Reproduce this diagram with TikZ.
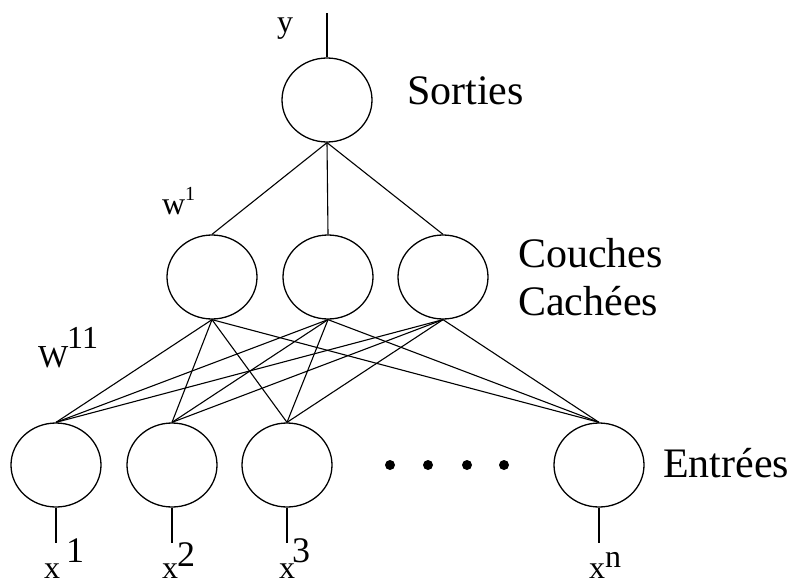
\documentclass[tikz,border=0pt]{standalone}
\usepackage{fontspec}
\setmainfont{Liberation Serif}
\newfontfamily\timesfam{Liberation Serif}
\usetikzlibrary{shapes.geometric}

\tikzset{
  neuron/.style={draw, ellipse, line width=1.3pt, minimum width=90pt, minimum height=84pt, inner sep=0pt},
  wire/.style={line width=1.1pt},
  biglbl/.style={font=\timesfam\fontsize{42}{48}\selectfont, inner sep=0pt, anchor=base west},
  smalllbl/.style={font=\timesfam\fontsize{32}{36}\selectfont, inner sep=0pt, anchor=base west},
  supsmall/.style={font=\timesfam\fontsize{20}{24}\selectfont, inner sep=0pt, anchor=base west},
  supbig/.style={font=\timesfam\fontsize{36}{40}\selectfont, inner sep=0pt, anchor=base west}
}

\begin{document}
\begin{tikzpicture}[x=1pt, y=-1pt]
    \useasboundingbox (0,0) rectangle (794,583);
    % couche de sortie
    \node[neuron] (out) at (327,100) {};
    \coordinate (ytop) at (327,13);
    \draw[wire] (out.north) -- (ytop);
    \path (277,33) node[smalllbl] (ylbl) {y};
    \path (407,105) node[biglbl] (sorties) {Sorties};
    % couche cachee
    \foreach \i/\x in {1/212, 2/328, 3/443}
      \node[neuron] (h\i) at (\x,277) {};
    \path (518,267) node[biglbl] (couches) {Couches};
    \path (518,315) node[biglbl] (cachees) {Cachées};
    \path (162,214) node[smalllbl] (wa) {w};
    \path (185,200) node[supsmall] (wasup) {1};
    \path (38,367) node[smalllbl] (wb) {W};
    \path (67,348) node[smalllbl] (wbsup) {11};
    % entrees
    \foreach \i/\x in {1/56, 2/172, 3/287, n/599}
      \node[neuron] (in\i) at (\x,465) {};
    \foreach \x in {390,428,467,504}
      \fill (\x,465) circle (5pt);
    \path (663,477) node[biglbl] (entrees) {Entrées};
    % connexions
    \foreach \i in {1,2,3}
      \draw[wire] (out.south) -- (h\i.north);
    \foreach \i in {1,2,3}
      \foreach \j in {1,2,3,n}
        \draw[wire] (h\i.south) -- (in\j.north);
    \foreach \j/\x in {1/56, 2/172, 3/287, n/599} {
      \coordinate (stub\j) at (\x,543);
      \draw[wire] (in\j.south) -- (stub\j);
    }
    \path (44,578) node[smalllbl] (x1) {x};
    \path (66,562) node[supbig] (x1sup) {1};
    \path (162,578) node[smalllbl] (x2) {x};
    \path (177,566) node[supbig] (x2sup) {2};
    \path (279,578) node[smalllbl] (x3) {x};
    \path (292,562) node[supbig] (x3sup) {3};
    \path (589,578) node[smalllbl] (xn) {x};
    \path (605,567) node[smalllbl] (xnsup) {n};
\end{tikzpicture}
\end{document}
